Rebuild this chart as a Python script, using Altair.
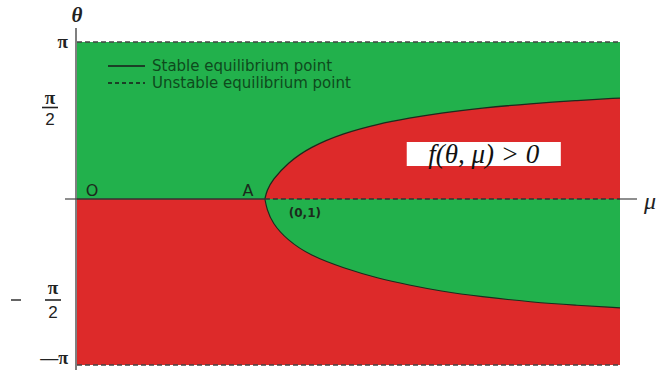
import math
import altair as alt
import pandas as pd

PI = math.pi
MU_MAX = 2.89

# Boundary curve f(theta, mu) = 0, upper and lower branches
mu_curve = [1.00, 1.01, 1.04, 1.12, 1.24, 1.42, 1.60, 1.77, 1.93, 2.15, 2.42, 2.65, 2.89]
theta_upper = [0.00, 0.17, 0.38, 0.72, 1.04, 1.32, 1.50, 1.62, 1.72, 1.82, 1.91, 1.97, 2.02]
theta_lower = [0.00, -0.19, -0.46, -0.78, -1.07, -1.31, -1.50, -1.63, -1.74, -1.85, -1.95, -2.01, -2.06]

# Equilibrium segments on theta = 0
seg_start = [0.0, 1.0]
seg_end = [1.0, MU_MAX]

# Unstable equilibria along the top and bottom edges
edge_theta = [PI, -PI]

GREEN = "#22b14c"
RED = "#dd2a2a"
INK = "#1e2a1e"
LEGEND_INK = "#0e4a1d"

W, H = 543, 323
ZERO_PX = 157

xs = alt.Scale(domain=[0, MU_MAX], nice=False, zero=False)
ys = alt.Scale(domain=[-PI, 0, PI], range=[H, ZERO_PX, 0], nice=False, zero=False)


def xf(field):
    return alt.X(field, type="quantitative", scale=xs, axis=None)


def yf(field):
    return alt.Y(field, type="quantitative", scale=ys, axis=None)


def xd(v):
    return alt.X(datum=v, scale=xs, axis=None)


def yd(v):
    return alt.Y(datum=v, scale=ys, axis=None)


curve = pd.DataFrame({"mu": mu_curve, "up": theta_upper, "low": theta_lower,
                      "zero": [0.0] * len(mu_curve)})
panels = pd.DataFrame({"m0": [0, 0], "m1": [MU_MAX, MU_MAX],
                       "t0": [0, -PI], "t1": [PI, 0], "fill": [GREEN, RED]})
segs = pd.DataFrame({"m0": seg_start, "m1": seg_end})
edges = pd.DataFrame({"t": edge_theta})
one = pd.DataFrame({"k": [0]})

layers = []

# half-plane background
layers.append(alt.Chart(panels).mark_rect().encode(
    x=xf("m0"), x2="m1", y=yf("t0"), y2="t1",
    color=alt.Color("fill:N", scale=None)))

# regions enclosed by the boundary curve
layers.append(alt.Chart(curve).mark_area(color=RED, interpolate="basis", opacity=1).encode(
    x=xf("mu"), y=yf("up"), y2="zero"))
layers.append(alt.Chart(curve).mark_area(color=GREEN, interpolate="basis", opacity=1).encode(
    x=xf("mu"), y=yf("low"), y2="zero"))

# boundary lines
layers.append(alt.Chart(curve).mark_line(color=INK, strokeWidth=1.3, interpolate="basis").encode(
    x=xf("mu"), y=yf("up")))
layers.append(alt.Chart(curve).mark_line(color=INK, strokeWidth=1.1, interpolate="basis").encode(
    x=xf("mu"), y=yf("low")))

# theta = 0 : stable part solid, unstable part dashed
layers.append(alt.Chart(segs.iloc[[0]]).mark_rule(color="#333333", strokeWidth=1.3).encode(
    x=xf("m0"), x2="m1", y=yd(0)))
layers.append(alt.Chart(segs.iloc[[1]]).mark_rule(color="#333333", strokeWidth=1.3,
                                                  strokeDash=[5, 3]).encode(
    x=xf("m0"), x2="m1", y=yd(0)))

# theta = +/- pi dashed edges
layers.append(alt.Chart(edges).mark_rule(color="#444444", strokeWidth=1.3, strokeDash=[5, 3]).encode(
    x=xd(0), x2=alt.X2(datum=MU_MAX), y=yf("t")))

# axis lines
layers.append(alt.Chart(one).mark_rule(color="#555555", strokeWidth=1.5).encode(
    x=alt.value(-1), y=alt.value(-14), y2=alt.value(H + 6)))
layers.append(alt.Chart(one).mark_rule(color="#444444", strokeWidth=1.2).encode(
    x=alt.value(-12), x2=alt.value(0), y=yd(0)))
layers.append(alt.Chart(one).mark_rule(color="#444444", strokeWidth=1.2).encode(
    x=alt.value(W), x2=alt.value(W + 17), y=yd(0)))

# axis titles
layers.append(alt.Chart(one).mark_text(text="θ", font="Liberation Serif", fontSize=21,
                                       fontStyle="italic", fontWeight="bold", color="#222222",
                                       align="center", baseline="middle").encode(
    x=alt.value(0), y=alt.value(-26)))
layers.append(alt.Chart(one).mark_text(text="μ", font="Liberation Serif", fontSize=24,
                                       fontStyle="italic", color="#222222",
                                       align="left", baseline="middle", dy=3).encode(
    x=alt.value(W + 24), y=yd(0)))

# tick labels
tick_font = dict(font="Liberation Serif", fontWeight="bold", color="#222222", baseline="middle")
layers.append(alt.Chart(one).mark_text(text="π", fontSize=19, align="right", **tick_font).encode(
    x=alt.value(-9), y=yd(PI)))
layers.append(alt.Chart(one).mark_text(text="—π", fontSize=18, align="right", dy=-6,
                                       **tick_font).encode(x=alt.value(-9), y=yd(-PI)))

for t, num_dy, bar_dy, den_dy, cx in [(PI / 2, -23, -13, -1, -27), (-PI / 2, 6, 18, 31, -24)]:
    layers.append(alt.Chart(one).mark_text(text="π", fontSize=19, align="center", dy=num_dy,
                                           **tick_font).encode(x=alt.value(cx), y=yd(t)))
    layers.append(alt.Chart(one).mark_rule(color="#222222", strokeWidth=1.6, yOffset=bar_dy).encode(
        x=alt.value(cx - 8), x2=alt.value(cx + 8), y=yd(t)))
    layers.append(alt.Chart(one).mark_text(text="2", fontSize=17, align="center", dy=den_dy,
                                           font="Liberation Sans", color="#222222",
                                           baseline="middle").encode(x=alt.value(cx), y=yd(t)))
    if t < 0:
        layers.append(alt.Chart(one).mark_rule(color="#222222", strokeWidth=1.4, yOffset=bar_dy).encode(
            x=alt.value(cx - 42), x2=alt.value(cx - 32), y=yd(t)))

# point labels
pt_font = dict(font="DejaVu Sans", color="#1c2a1c", baseline="middle", align="center")
layers.append(alt.Chart(one).mark_text(text="O", fontSize=16, dx=15, dy=-8, **pt_font).encode(
    x=xd(0), y=yd(0)))
layers.append(alt.Chart(one).mark_text(text="A", fontSize=16, dx=-17, dy=-8, **pt_font).encode(
    x=xd(1), y=yd(0)))
layers.append(alt.Chart(one).mark_text(text="(0,1)", fontSize=12, fontWeight="bold", dx=40, dy=14,
                                       **pt_font).encode(x=xd(1), y=yd(0)))

# region label with white box
layers.append(alt.Chart(one).mark_rect(color="white").encode(
    x=xd(1.755), x2=alt.X2(datum=2.575), y=yd(1.14), y2=alt.Y2(datum=0.66)))
layers.append(alt.Chart(one).mark_text(text="f(θ, μ) > 0", font="Liberation Serif", fontSize=27,
                                       fontStyle="italic", color="#111111",
                                       align="center", baseline="middle", dy=1).encode(
    x=xd(2.165), y=yd(0.90)))

# legend
layers.append(alt.Chart(one).mark_rule(color="#1a1a1a", strokeWidth=1.3).encode(
    x=alt.value(31), x2=alt.value(68), y=alt.value(24)))
layers.append(alt.Chart(one).mark_rule(color="#1a1a1a", strokeWidth=1.3, strokeDash=[4, 3]).encode(
    x=alt.value(31), x2=alt.value(68), y=alt.value(41)))
leg_font = dict(font="DejaVu Sans", fontSize=15, color=LEGEND_INK, align="left", baseline="middle")
layers.append(alt.Chart(one).mark_text(text="Stable equilibrium point", **leg_font).encode(
    x=alt.value(75), y=alt.value(24)))
layers.append(alt.Chart(one).mark_text(text="Unstable equilibrium point", **leg_font).encode(
    x=alt.value(75), y=alt.value(41)))

chart = alt.layer(*layers).properties(
    width=W, height=H,
    autosize=alt.AutoSizeParams(type="none"),
    padding={"left": 77, "top": 42, "right": 42, "bottom": 5},
    background="white",
).configure_view(stroke=None)

chart.save("out.html", embed_options={"renderer": "svg", "actions": False})
